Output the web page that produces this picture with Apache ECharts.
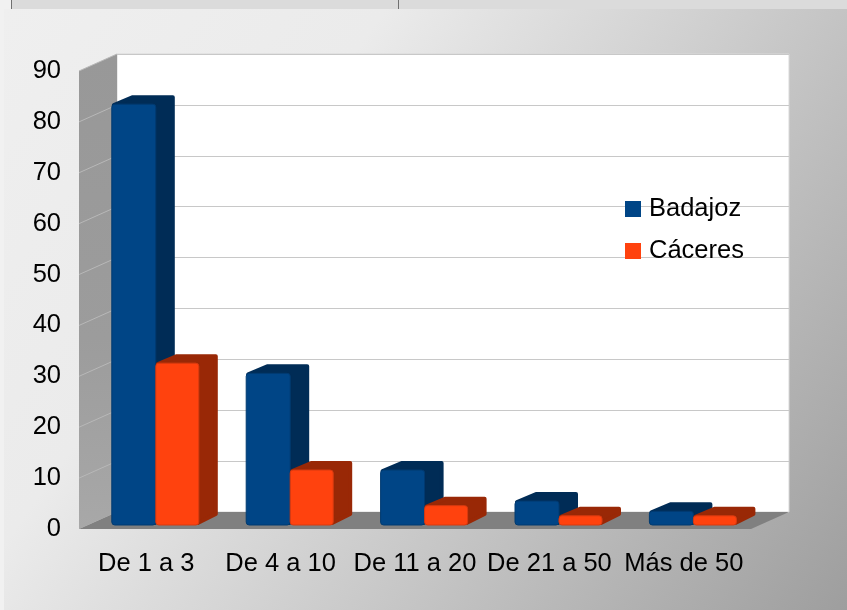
<!DOCTYPE html>
<html>
<head>
<meta charset="utf-8">
<style>html,body{margin:0;padding:0;background:#f1f1f1;overflow:hidden}#c{width:847px;height:610px}</style>
<script src="https://cdn.jsdelivr.net/npm/echarts@6/dist/echarts.min.js"></script>
</head>
<body>
<div id="c"></div>
<script>
var categories = ['De 1 a 3', 'De 4 a 10', 'De 11 a 20', 'De 21 a 50', 'Más de 50'];
var badajoz = [82.7, 29.8, 10.8, 4.7, 2.7];
var caceres = [31.8, 10.8, 3.8, 1.8, 1.8];
var ticks = [0, 10, 20, 30, 40, 50, 60, 70, 80, 90];

var FONT = '"Liberation Sans", Arial, sans-serif';
var WALL_DX = 38, WALL_DY = -17;
var BAR_DX = 19, BAR_DY = -9, OFF_X = 9.6, OFF_Y = -4, BAR_W = 44;

function barRenderer(side, front, frontDark, sideColor) {
  return function (params, api) {
    var c = api.coord([api.value(0), api.value(1)]);
    var base = api.coord([api.value(0), 0]);
    var xc = c[0] + OFF_X, top = c[1] + OFF_Y, bot = base[1] + OFF_Y;
    var x0 = side < 0 ? xc - BAR_W : xc, x1 = x0 + (side < 0 ? BAR_W : BAR_W - 1);
    var sideStyle = { fill: sideColor, stroke: sideColor, lineWidth: 4, lineJoin: 'round' };
    var ins = 2;
    return {
      type: 'group',
      children: [
        { type: 'polygon', shape: { points: [[x0 + 2, top + 1], [x0 + BAR_DX + 2, top + BAR_DY + ins], [x1 + BAR_DX - ins, top + BAR_DY + ins], [x1 + BAR_DX - ins, bot + BAR_DY - ins], [x1 - 1, bot - ins], [x1 - 1, top + 1]] }, style: sideStyle },
        { type: 'rect', shape: { x: x0, y: top, width: x1 - x0, height: bot - top, r: 3 }, style: { fill: front, stroke: frontDark, lineWidth: 1 } }
      ]
    };
  };
}

function wallRenderer(params, api) {
  var v = api.value(0);
  var p = api.coord([0, v]);
  var left = params.coordSys.x, right = left + params.coordSys.width;
  var kids = [];
  if (params.dataIndex === 0) {
    var topY = api.coord([0, ticks[ticks.length - 1]])[1], botY = p[1];
    kids.push({ type: 'polygon', shape: { points: [[left, topY], [left + WALL_DX, topY + WALL_DY], [left + WALL_DX, botY + WALL_DY], [left, botY]] },
      style: { fill: new echarts.graphic.LinearGradient(0, 0, 0, 1, [{ offset: 0, color: '#989898' }, { offset: 0.6, color: '#9c9c9c' }, { offset: 1, color: '#a8a8a8' }]) } });
    kids.push({ type: 'polygon', shape: { points: [[left, botY], [left + WALL_DX, botY + WALL_DY], [right + WALL_DX, botY + WALL_DY], [right, botY]] }, style: { fill: '#808080' } });
  } else {
    kids.push({ type: 'line', shape: { x1: left, y1: p[1], x2: left + WALL_DX, y2: p[1] + WALL_DY }, style: { stroke: '#b8b8b8', lineWidth: 1 } });
  }
  return { type: 'group', children: kids };
}

var chart = echarts.init(document.getElementById('c'), null, { renderer: 'canvas' });
chart.setOption({
  animation: false,
  textStyle: { fontFamily: FONT },
  graphic: [
    { type: 'rect', z: -10, silent: true, shape: { x: 4, y: 9, width: 843, height: 601 },
      style: { fill: new echarts.graphic.LinearGradient(0, 0, 1, 1, [
        { offset: 0, color: '#efefef' }, { offset: 0.3, color: '#ebebeb' },
        { offset: 0.5, color: '#d6d6d6' }, { offset: 1, color: '#9e9e9e' }]) } },
    { type: 'rect', z: -9, silent: true, shape: { x: 11, y: 0, width: 836, height: 9 }, style: { fill: '#dbdbdb' } },
    { type: 'rect', z: -9, silent: true, shape: { x: 11, y: 0, width: 1, height: 9 }, style: { fill: '#707070' } },
    { type: 'rect', z: -9, silent: true, shape: { x: 398, y: 0, width: 1, height: 9 }, style: { fill: '#707070' } }
  ],
  grid: [
    { left: 79, right: 96, top: 71, bottom: 81 },
    { left: 117, right: 58, top: 54, bottom: 98, show: true, backgroundColor: '#ffffff', borderColor: '#d8d8d8', borderWidth: 1, z: 0 }
  ],
  xAxis: [
    { type: 'category', data: categories, gridIndex: 0, axisLine: { show: false }, axisTick: { show: false },
      axisLabel: { interval: 0, hideOverlap: false, margin: 22, fontSize: 25.5, color: '#000', fontFamily: FONT } },
    { type: 'category', data: categories, gridIndex: 1, show: false }
  ],
  yAxis: [
    { type: 'value', gridIndex: 0, min: 0, max: 90, interval: 10, axisLine: { show: false }, axisTick: { show: false }, splitLine: { show: false },
      axisLabel: { margin: 18, fontSize: 25.5, color: '#000', fontFamily: FONT, padding: [2, 0, 0, 0] } },
    { type: 'value', gridIndex: 1, min: 0, max: 90, interval: 10, axisLine: { show: false }, axisTick: { show: false }, axisLabel: { show: false },
      splitLine: { show: true, lineStyle: { color: '#c8c8c8', width: 1 } } }
  ],
  legend: {
    orient: 'vertical', left: 625, top: 196, itemWidth: 16, itemHeight: 16, itemGap: 16,
    icon: 'rect', data: ['Badajoz', 'Cáceres'],
    textStyle: { fontSize: 25.5, color: '#000', fontFamily: FONT, padding: [3, 0, 0, 3] }, padding: 0
  },
  series: [
    { type: 'custom', name: 'walls', xAxisIndex: 0, yAxisIndex: 0, clip: false, z: 1, silent: true,
      renderItem: wallRenderer, data: ticks.map(function (t) { return [t]; }), encode: { y: 0 } },
    { type: 'custom', name: 'Badajoz', xAxisIndex: 0, yAxisIndex: 0, clip: false, z: 3,
      itemStyle: { color: '#004586' }, renderItem: barRenderer(-1, '#004586', '#003a70', '#002c56'),
      data: badajoz.map(function (v, i) { return [i, v]; }), encode: { x: 0, y: 1 } },
    { type: 'custom', name: 'Cáceres', xAxisIndex: 0, yAxisIndex: 0, clip: false, z: 4,
      itemStyle: { color: '#ff420e' }, renderItem: barRenderer(1, '#ff420e', '#d83a10', '#992806'),
      data: caceres.map(function (v, i) { return [i, v]; }), encode: { x: 0, y: 1 } }
  ]
});
</script>
</body>
</html>
